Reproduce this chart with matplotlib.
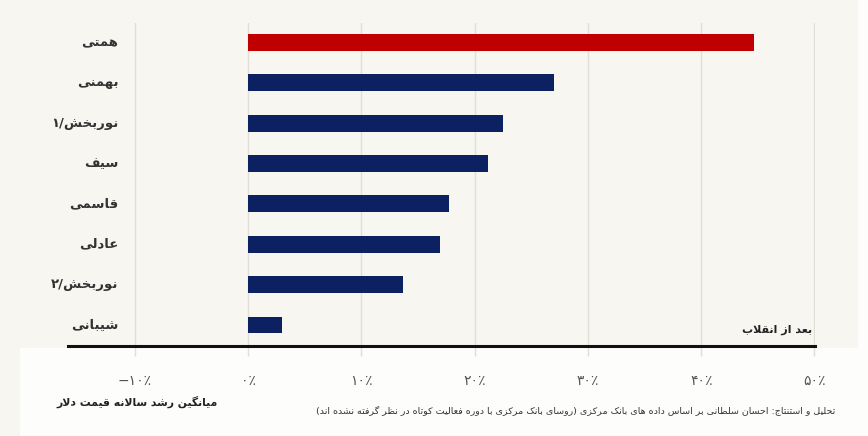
import matplotlib
matplotlib.use("Agg")
import matplotlib.pyplot as plt
from matplotlib.patches import Rectangle

# -------------------------------------------------------
# DATA (average yearly growth of the dollar price, per central bank governor)
# -------------------------------------------------------
governors = ["همتی", "بهمنی", "نوربخش/۱", "سیف", "قاسمی", "عادلی", "نوربخش/۲", "شیبانی"]
growth = [44.7, 27.0, 22.5, 21.2, 17.7, 16.9, 13.7, 3.0]
highlight = "همتی"

tick_values = [-10, 0, 10, 20, 30, 40, 50]
tick_labels = ["−۱۰٪", "۰٪", "۱۰٪", "۲۰٪", "۳۰٪", "۴۰٪", "۵۰٪"]

period_label = "بعد از انقلاب"
xlabel = "میانگین رشد سالانه قیمت دلار"
source = ("تحلیل و استنتاج: احسان سلطانی بر اساس داده های بانک مرکزی "
          "(روسای بانک مرکزی با دوره فعالیت کوتاه در نظر گرفته نشده اند)")

# -------------------------------------------------------
# minimal right-to-left shaping: matplotlib draws glyphs one by one,
# left to right, with no joining and no bidi
# forms: isolated, final, initial, medial ; right-joining letters have two
# -------------------------------------------------------
FORMS = {
    "ا": (0xFE8D, 0xFE8E), "ب": (0xFE8F, 0xFE90, 0xFE91, 0xFE92),
    "پ": (0xFB56, 0xFB57, 0xFB58, 0xFB59), "ت": (0xFE95, 0xFE96, 0xFE97, 0xFE98),
    "ث": (0xFE99, 0xFE9A, 0xFE9B, 0xFE9C), "ج": (0xFE9D, 0xFE9E, 0xFE9F, 0xFEA0),
    "چ": (0xFB7A, 0xFB7B, 0xFB7C, 0xFB7D), "ح": (0xFEA1, 0xFEA2, 0xFEA3, 0xFEA4),
    "خ": (0xFEA5, 0xFEA6, 0xFEA7, 0xFEA8), "د": (0xFEA9, 0xFEAA),
    "ذ": (0xFEAB, 0xFEAC), "ر": (0xFEAD, 0xFEAE), "ز": (0xFEAF, 0xFEB0),
    "ژ": (0xFB8A, 0xFB8B), "س": (0xFEB1, 0xFEB2, 0xFEB3, 0xFEB4),
    "ش": (0xFEB5, 0xFEB6, 0xFEB7, 0xFEB8), "ص": (0xFEB9, 0xFEBA, 0xFEBB, 0xFEBC),
    "ض": (0xFEBD, 0xFEBE, 0xFEBF, 0xFEC0), "ط": (0xFEC1, 0xFEC2, 0xFEC3, 0xFEC4),
    "ظ": (0xFEC5, 0xFEC6, 0xFEC7, 0xFEC8), "ع": (0xFEC9, 0xFECA, 0xFECB, 0xFECC),
    "غ": (0xFECD, 0xFECE, 0xFECF, 0xFED0), "ف": (0xFED1, 0xFED2, 0xFED3, 0xFED4),
    "ق": (0xFED5, 0xFED6, 0xFED7, 0xFED8), "ک": (0xFB8E, 0xFB8F, 0xFB90, 0xFB91),
    "گ": (0xFB92, 0xFB93, 0xFB94, 0xFB95), "ل": (0xFEDD, 0xFEDE, 0xFEDF, 0xFEE0),
    "م": (0xFEE1, 0xFEE2, 0xFEE3, 0xFEE4), "ن": (0xFEE5, 0xFEE6, 0xFEE7, 0xFEE8),
    "ه": (0xFEE9, 0xFEEA, 0xFEEB, 0xFEEC), "و": (0xFEED, 0xFEEE),
    "ی": (0xFBFC, 0xFBFD, 0xFBFE, 0xFBFF),
}
DIGITS = "۰۱۲۳۴۵۶۷۸۹0123456789"
MIRROR = {"(": ")", ")": "("}


def shape_word(chars):
    out = []
    i = 0
    while i < len(chars):
        ch = chars[i]
        prev_joins = i > 0 and len(FORMS[chars[i - 1]]) == 4
        # lam + alef ligature
        if ch == "ل" and i + 1 < len(chars) and chars[i + 1] == "ا":
            out.append(chr(0xFEFC if prev_joins else 0xFEFB))
            i += 2
            continue
        f = FORMS[ch]
        next_joins = len(f) == 4 and i + 1 < len(chars)
        if prev_joins and next_joins:
            out.append(chr(f[3]))
        elif next_joins:
            out.append(chr(f[2]))
        elif prev_joins:
            out.append(chr(f[1]))
        else:
            out.append(chr(f[0]))
        i += 1
    return "".join(out)


def rtl(text):
    # split into letter runs, digit runs and single other chars,
    # then lay the whole line out right to left
    text = text.replace("ي", "ی").replace("ك", "ک")
    tokens = []
    i = 0
    while i < len(text):
        j = i
        if text[i] in FORMS:
            while j < len(text) and text[j] in FORMS:
                j += 1
            tokens.append(shape_word(text[i:j])[::-1])
        elif text[i] in DIGITS:
            while j < len(text) and text[j] in DIGITS:
                j += 1
            tokens.append(text[i:j])
        else:
            j = i + 1
            tokens.append(MIRROR.get(text[i], text[i]))
        i = j
    return "".join(tokens[::-1])


# -------------------------------------------------------
# PLOT
# -------------------------------------------------------
plt.rcParams["font.family"] = ["DejaVu Sans"]

BG = "#f8f6f1"
RED = "#c00000"
NAVY = "#0b2161"
GRID = "#e2ddd5"

fig = plt.figure(figsize=(8.68, 4.36), dpi=100, facecolor=BG)
# lighter strip under the axis and on the right edge, as in the scanned original
fig.patches.append(Rectangle((20 / 868, 0), 1, 88 / 436, transform=fig.transFigure,
                             facecolor="#fdfdfc", edgecolor="none", zorder=-1))
fig.patches.append(Rectangle((858 / 868, 0), 1, 1, transform=fig.transFigure,
                             facecolor="#fdfdfc", edgecolor="none", zorder=-1))

ax = fig.add_axes([68 / 868, 90 / 436, 747 / 868, 323 / 436])
ax.patch.set_visible(False)

ypos = list(range(len(governors)))
colors = [RED if g == highlight else NAVY for g in governors]
ax.barh(ypos, growth, height=0.42, color=colors, zorder=3)

for v in tick_values:
    ax.axvline(v, color=GRID, lw=1, zorder=1)

ax.set_xlim(-15.9, 50.05)
ax.set_ylim(7.52, -0.48)

# tick labels are already in visual order (number, then percent sign)
ax.set_xticks(tick_values)
ax.set_xticklabels(tick_labels, fontsize=10, color="#555555")
ax.tick_params(axis="x", length=7, width=1, color=GRID, pad=13)
ax.set_yticks([])

for s in ["top", "left", "right"]:
    ax.spines[s].set_visible(False)
ax.spines["bottom"].set_linewidth(2.2)
ax.spines["bottom"].set_color("#111111")
ax.spines["bottom"].set_zorder(4)

# governor names, right aligned left of the -10% gridline
for y, name in zip(ypos, governors):
    ax.text(-11.45, y, rtl(name), ha="right", va="center", fontsize=9.5,
            fontweight="bold", color="#333333")

ax.text(0.996, 0.05, rtl(period_label), transform=ax.transAxes, ha="right",
        va="center", fontsize=8, fontweight="bold", color="#222222")

fig.text(218 / 868, 1 - 402 / 436, rtl(xlabel), ha="right", va="center",
         fontsize=7.8, fontweight="bold", color="#222222")
fig.text(835 / 868, 1 - 410 / 436, rtl(source), ha="right", va="center",
         fontsize=6.8, color="#333333")

fig.savefig("out.png", dpi=100, facecolor=fig.get_facecolor())
